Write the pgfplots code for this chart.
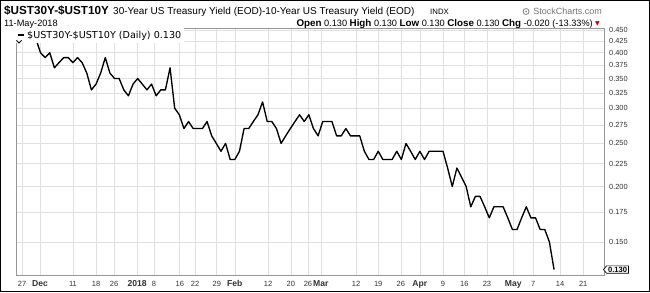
\documentclass[border=0pt]{standalone}
\usepackage{pgfplots}
\pgfplotsset{compat=1.18}
\usepackage{fontspec}
\setmainfont{Liberation Sans}
\newfontfamily\dejavu{DejaVu Sans}
\usetikzlibrary{shapes.symbols}
\definecolor{gridc}{RGB}{224,224,224}
\definecolor{lblc}{RGB}{50,50,50}
\definecolor{framec}{RGB}{150,150,150}
\begin{document}
\begin{tikzpicture}[x=1pt,y=1pt]
\path[use as bounding box] (0,0) rectangle (650,292);
\draw[line width=1.4pt] (0.7,0.7) rectangle (649.3,291.3);
% header
\node[anchor=base west, inner sep=0] at (4,277) {\fontsize{11.7}{12}\selectfont\bfseries \$UST30Y-\$UST10Y};
\node[anchor=base west, inner sep=0] at (113,277) {\fontsize{10}{11}\selectfont 30-Year US Treasury Yield (EOD)-10-Year US Treasury Yield (EOD)};
\node[anchor=base west, inner sep=0] at (430,277) {\fontsize{7.8}{8}\selectfont INDX};
\draw[gray, line width=0.8pt] (526,280.5) circle (3);
\fill[gray] (526,280.5) circle (1);
\node[anchor=base east, inner sep=0, text=black!55] at (602,277) {\fontsize{9}{10}\selectfont StockCharts.com};
\node[anchor=base west, inner sep=0] at (4,265) {\fontsize{9.2}{10}\selectfont 11-May-2018};
\node[anchor=base east, inner sep=0] at (593,265) {\fontsize{9.2}{10}\selectfont\textbf{\fontsize{9.8}{11}\selectfont Open} 0.130 \textbf{\fontsize{9.8}{11}\selectfont High} 0.130 \textbf{\fontsize{9.8}{11}\selectfont Low} 0.130 \textbf{\fontsize{9.8}{11}\selectfont Close} 0.130 \textbf{\fontsize{9.8}{11}\selectfont Chg} -0.020 (-13.33\%)};
\node[anchor=base west, inner sep=0, text=red!80!black] at (595,266) {\dejavu\fontsize{6}{6}\selectfont ▼};
\begin{axis}[
  at={(16pt,17pt)}, anchor=south west,
  width=588pt, height=247pt, scale only axis,
  xmin=-2.3, xmax=124.8,
  ymode=log, ymin=0.1264, ymax=0.4547,
  axis line style={draw=framec, line width=0.6pt},
  major tick length=0pt,
  grid=major,
  major grid style={draw=gridc, line width=0.6pt},
  ytick={0.15,0.175,0.2,0.225,0.25,0.275,0.3,0.325,0.35,0.375,0.4,0.425,0.45},
  yticklabels={0.150,0.175,0.200,0.225,0.250,0.275,0.300,0.325,0.350,0.375,0.400,0.425,0.450},
  yticklabel pos=right,
  yticklabel style={anchor=west, inner sep=0pt, xshift=5pt, font=\fontsize{7.4}{8}\selectfont, text=lblc},
  xtick={-1.0,2.9,10.0,15.0,18.9,23.9,27.5,33.1,36.4,41.1,45.0,52.2,57.1,60.8,63.6,71.2,76.0,80.9,85.0,90.0,94.6,99.5,105.2,109.5,115.3,120.3},
  xticklabels={27,\textbf{\fontsize{8.6}{9}\selectfont Dec},11,18,26,\textbf{\fontsize{8.6}{9}\selectfont 2018},8,16,22,29,\textbf{\fontsize{8.6}{9}\selectfont Feb},12,20,26,\textbf{\fontsize{8.6}{9}\selectfont Mar},12,19,26,\textbf{\fontsize{8.6}{9}\selectfont Apr},9,16,23,\textbf{\fontsize{8.6}{9}\selectfont May},7,14,21},
  xticklabel style={anchor=base, inner sep=0pt, yshift=-11pt, font=\fontsize{7.5}{8}\selectfont, text=lblc},
  legend style={at={(0,1)}, anchor=north west, fill=white, draw=none, inner xsep=1pt, inner ysep=0.8pt,
    font=\dejavu\fontsize{9.6}{10}\selectfont, legend cell align=left},
  legend image code/.code={\draw[line width=2pt] (-1pt,0pt) -- (5pt,0pt);},
]
\addplot[black, line width=1.35pt, line join=round] coordinates {
(-2,0.45) (-1,0.45) (0,0.45) (1,0.45) (2,0.43) (3,0.40) (4,0.39) (5,0.40) (6,0.37) (7,0.38)
(8,0.39) (9,0.39) (10,0.38) (11,0.39) (12,0.38) (13,0.36) (14,0.33) (15,0.34) (16,0.36) (17,0.39)
(18,0.36) (19,0.35) (20,0.35) (21,0.33) (22,0.32) (23,0.34) (24,0.35) (25,0.34) (26,0.33) (27,0.34)
(28,0.32) (29,0.33) (30,0.33) (31,0.37) (32,0.30) (33,0.29) (34,0.27) (35,0.28) (36,0.27) (37,0.27)
(38,0.27) (39,0.28) (40,0.26) (41,0.25) (42,0.24) (43,0.25) (44,0.23) (45,0.23) (46,0.24) (47,0.27)
(48,0.27) (49,0.28) (50,0.29) (51,0.31) (52,0.28) (53,0.28) (54,0.27) (55,0.25) (56,0.26) (57,0.27)
(58,0.28) (59,0.29) (60,0.28) (61,0.29) (62,0.27) (63,0.26) (64,0.28) (65,0.28) (66,0.28) (67,0.26)
(68,0.26) (69,0.27) (70,0.26) (71,0.26) (72,0.26) (73,0.24) (74,0.23) (75,0.23) (76,0.24) (77,0.23)
(78,0.23) (79,0.23) (80,0.24) (81,0.23) (82,0.25) (83,0.24) (84,0.23) (85,0.24) (86,0.23) (87,0.24)
(88,0.24) (89,0.24) (90,0.24) (91,0.22) (92,0.20) (93,0.22) (94,0.21) (95,0.20) (96,0.18) (97,0.19)
(98,0.19) (99,0.18) (100,0.17) (101,0.18) (102,0.18) (103,0.18) (104,0.17) (105,0.16) (106,0.16) (107,0.17)
(108,0.18) (109,0.17) (110,0.17) (111,0.16) (112,0.16) (113,0.15) (114,0.13)
};
\addlegendentry{\$UST30Y-\$UST10Y (Daily) 0.130}
\coordinate (tagpos) at (axis cs:124.8,0.13);
\end{axis}
\draw[line width=0.8pt] (16.5,251.5) -- (19,249) -- (21.5,251.5);
\node[signal, signal to=west, signal pointer angle=100, draw=black, line width=0.7pt, fill=white,
  inner xsep=1.5pt, inner ysep=1pt, anchor=west, font=\bfseries\fontsize{7.6}{8}\selectfont]
  at ([xshift=-1pt]tagpos) {0.130};
\end{tikzpicture}
\end{document}
